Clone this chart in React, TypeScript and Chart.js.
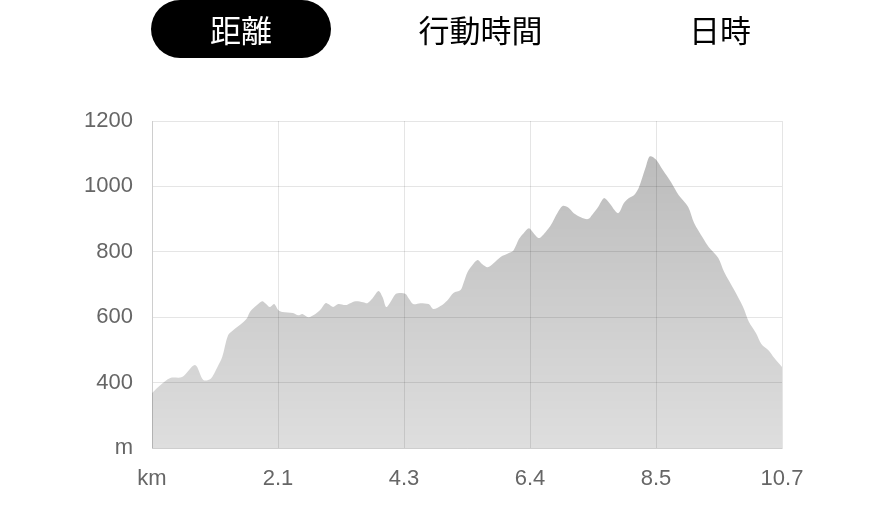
import React, { useEffect, useRef } from "react";
import { Chart, registerables } from "chart.js";

Chart.register(...registerables);

const tabs = ["距離", "行動時間", "日時"];
const activeTab = 0;

const totalKm = 10.68;
const distanceKm = [
  0, 0.14, 0.31, 0.51, 0.73, 0.87, 0.99, 1.11, 1.19, 1.29, 1.38, 1.53, 1.61, 1.66, 1.78, 1.87, 1.92, 2.0,
  2.07, 2.14, 2.21, 2.39, 2.48, 2.55, 2.65, 2.77, 2.85, 2.94, 2.99, 3.07, 3.16, 3.28, 3.36, 3.45, 3.58,
  3.65, 3.74, 3.84, 3.91, 3.97, 4.04, 4.13, 4.21, 4.3, 4.35, 4.43, 4.55, 4.69, 4.77, 4.89, 5.01, 5.11,
  5.23, 5.28, 5.35, 5.43, 5.52, 5.6, 5.69, 5.79, 5.91, 6.05, 6.13, 6.22, 6.3, 6.39, 6.47, 6.56, 6.67,
  6.76, 6.88, 6.96, 7.05, 7.15, 7.27, 7.39, 7.47, 7.56, 7.66, 7.74, 7.9, 8.0, 8.08, 8.17, 8.25, 8.37,
  8.44, 8.54, 8.66, 8.8, 8.93, 9.09, 9.19, 9.34, 9.44, 9.6, 9.7, 9.87, 10.02, 10.12, 10.24, 10.33,
  10.45, 10.55, 10.68,
];
const elevationM = [
  368, 392, 414, 417, 454, 408, 411, 448, 478, 545, 561, 582, 597, 616, 637, 649, 643, 631,
  640, 622, 616, 613, 606, 610, 600, 610, 622, 643, 640, 631, 640, 637, 643, 649, 646,
  643, 658, 680, 661, 631, 646, 671, 674, 671, 658, 640, 643, 640, 625, 634, 652, 674,
  683, 704, 738, 759, 775, 762, 753, 765, 784, 796, 805, 839, 857, 872, 857, 842, 860,
  881, 921, 940, 936, 918, 906, 900, 915, 936, 964, 952, 918, 949, 964, 973, 995, 1059,
  1092, 1083, 1050, 1013, 973, 937, 888, 842, 814, 781, 738, 683, 631, 585, 551, 518,
  499, 475, 448,
];

const xTickLabels = ["km", "2.1", "4.3", "6.4", "8.5", "10.7"];
const yTickValues = [200, 400, 600, 800, 1000, 1200];
const yTickLabels = ["m", "400", "600", "800", "1000", "1200"];

const tickFont = { family: "'Liberation Sans', Arial, sans-serif", size: 22 };

export default function App() {
  const canvasRef = useRef<HTMLCanvasElement | null>(null);

  useEffect(() => {
    const canvas = canvasRef.current;
    if (!canvas) return;
    const points = distanceKm.map((x, i) => ({ x, y: elevationM[i] }));
    const xTickValues = xTickLabels.map((_, i) => (totalKm * i) / (xTickLabels.length - 1));

    const chart = new Chart(canvas, {
      type: "line",
      data: {
        datasets: [
          {
            data: points,
            borderWidth: 0,
            borderColor: "rgba(0,0,0,0)",
            pointRadius: 0,
            tension: 0.3,
            fill: "start",
            backgroundColor: (ctx: any) => {
              const area = ctx.chart.chartArea;
              if (!area) return "rgba(0,0,0,0.2)";
              const g = ctx.chart.ctx.createLinearGradient(0, area.top, 0, area.bottom);
              g.addColorStop(0, "rgba(0,0,0,0.28)");
              g.addColorStop(1, "rgba(0,0,0,0.13)");
              return g;
            },
          },
        ],
      },
      options: {
        animation: false,
        responsive: true,
        maintainAspectRatio: false,
        layout: { padding: { top: 121, right: 106, left: 0, bottom: 0 } },
        plugins: { legend: { display: false }, tooltip: { enabled: false } },
        events: [],
        scales: {
          x: {
            type: "linear",
            min: 0,
            max: totalKm,
            afterBuildTicks: (scale: any) => {
              scale.ticks = xTickValues.map((v) => ({ value: v }));
            },
            afterFit: (scale: any) => {
              scale.height = 513 - 448;
            },
            grid: { color: "rgba(0,0,0,0.1)", drawTicks: false },
            border: { color: "rgba(0,0,0,0.1)" },
            ticks: {
              autoSkip: false,
              maxRotation: 0,
              padding: 18,
              color: "#666",
              font: tickFont,
              callback: (_v: any, i: number) => xTickLabels[i],
            },
          },
          y: {
            type: "linear",
            min: 200,
            max: 1200,
            afterBuildTicks: (scale: any) => {
              scale.ticks = yTickValues.map((v) => ({ value: v }));
            },
            afterFit: (scale: any) => {
              scale.width = 152;
            },
            grid: { color: "rgba(0,0,0,0.1)", drawTicks: false },
            border: { color: "rgba(0,0,0,0.1)" },
            ticks: {
              padding: 19,
              color: "#666",
              font: tickFont,
              callback: (_v: any, i: number) => yTickLabels[i],
            },
          },
        },
      },
    });
    return () => chart.destroy();
  }, []);

  return (
    <div style={{ position: "absolute", left: 0, top: 0, width: 888, height: 513, background: "#fff" }}>
      <div style={{ position: "absolute", left: 0, top: 0, width: 888, height: 513 }}>
        <canvas ref={canvasRef} />
      </div>
      {tabs.map((t, i) => {
        const cx = 241 + i * 239.5;
        const active = i === activeTab;
        return (
          <div
            key={t}
            style={{
              position: "absolute",
              left: cx - 90,
              top: 0,
              width: 180,
              height: 58,
              borderRadius: 29,
              background: active ? "#000" : "transparent",
              color: active ? "#fff" : "#000",
              display: "flex",
              alignItems: "center",
              justifyContent: "center",
              fontFamily: "'Noto Sans CJK JP', sans-serif",
              fontSize: 31,
              lineHeight: "58px",
              zIndex: 2,
            }}
          >
            {t}
          </div>
        );
      })}
    </div>
  );
}
